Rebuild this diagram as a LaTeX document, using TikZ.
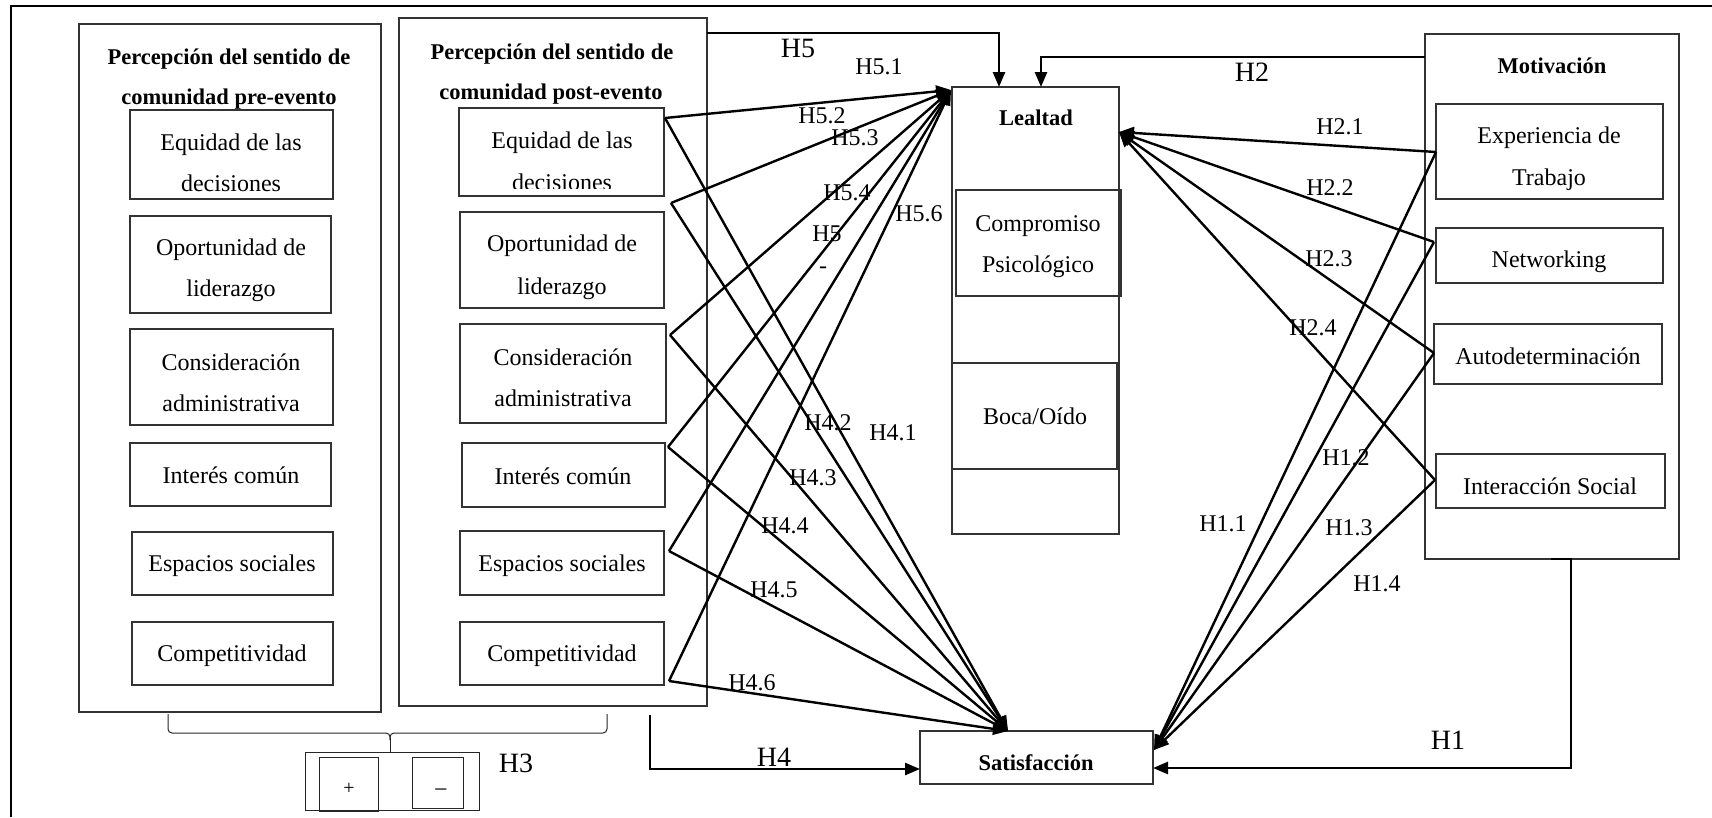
\documentclass[tikz,border=0pt]{standalone}
\usepackage{fontspec}
\setmainfont{Liberation Serif}
\usetikzlibrary{arrows.meta}
\begin{document}
\begin{tikzpicture}[x=1pt,y=-1pt,
  box/.style={draw=black!80, line width=1.4pt, inner sep=0pt, outer sep=0pt, anchor=north west},
  txt/.style={font=\fontsize{24}{28}\selectfont, inner sep=0pt, anchor=base},
  ttl/.style={font=\fontsize{22.5}{26}\selectfont\bfseries, inner sep=0pt, anchor=base},
  hbig/.style={font=\fontsize{28}{32}\selectfont, inner sep=0pt, anchor=base},
  hsub/.style={font=\fontsize{24}{28}\selectfont, inner sep=0pt, anchor=base},
  link/.style={line width=2.4pt, -{Triangle[length=15pt,width=12pt]}},
  elbow/.style={line width=2.6pt, -{Triangle[length=15pt,width=12pt]}},
  thinl/.style={line width=1pt, draw=black!85}
]
\useasboundingbox (0,0) rectangle (1712,817);

% outer frame (top and left edges)
\draw[line width=2.6pt] (11,817) -- (11,6) -- (1712,6);

% ---------- pre-event block ----------
\node[box, minimum width=302pt, minimum height=688pt] (pre) at (79,24) {};
\node[ttl] (preT1) at (229,64) {Percepción del sentido de};
\node[ttl] (preT2) at (229,104) {comunidad pre-evento};
\node[box, minimum width=203pt, minimum height=89pt] (pre1) at (130,110) {};
\node[box, minimum width=201pt, minimum height=97pt] (pre2) at (130,216) {};
\node[box, minimum width=203pt, minimum height=96pt] (pre3) at (130,329) {};
\node[box, minimum width=201pt, minimum height=63pt] (pre4) at (130,443) {};
\node[box, minimum width=201pt, minimum height=63pt] (pre5) at (132,532) {};
\node[box, minimum width=201pt, minimum height=63pt] (pre6) at (132,622) {};
\node[txt] (pa1) at (231,150) {Equidad de las};
\node[txt] (pa2) at (231,191) {decisiones};
\node[txt] (pb1) at (231,255) {Oportunidad de};
\node[txt] (pb2) at (231,296) {liderazgo};
\node[txt] (pc1) at (231,370) {Consideración};
\node[txt] (pc2) at (231,411) {administrativa};
\node[txt] (pd) at (231,483) {Interés común};
\node[txt] (pe) at (232,571) {Espacios sociales};
\node[txt] (pf) at (232,661) {Competitividad};

% ---------- post-event block ----------
\node[box, minimum width=308pt, minimum height=688pt] (post) at (399,18) {};
\node[ttl] (poT1) at (552,59) {Percepción del sentido de};
\node[ttl] (poT2) at (551,99) {comunidad post-evento};
\node[box, minimum width=205pt, minimum height=88pt] (post1) at (459,108) {};
\node[box, minimum width=204pt, minimum height=96pt] (post2) at (460,212) {};
\node[box, minimum width=206pt, minimum height=99pt] (post3) at (460,324) {};
\node[box, minimum width=203pt, minimum height=64pt] (post4) at (462,443) {};
\node[box, minimum width=204pt, minimum height=64pt] (post5) at (460,531) {};
\node[box, minimum width=204pt, minimum height=63pt] (post6) at (460,622) {};
\node[txt] (qa1) at (562,148) {Equidad de las};
\begin{scope}
  \clip (440,160) rectangle (690,188);
  \node[txt] (qa2) at (562,190) {decisiones};
\end{scope}
\node[txt] (qb1) at (562,251) {Oportunidad de};
\node[txt] (qb2) at (562,294) {liderazgo};
\node[txt] (qc1) at (563,365) {Consideración};
\node[txt] (qc2) at (563,406) {administrativa};
\node[txt] (qd) at (563,484) {Interés común};
\node[txt] (qe) at (562,571) {Espacios sociales};
\node[txt] (qf) at (562,661) {Competitividad};

% ---------- Lealtad ----------
\node[box, minimum width=167pt, minimum height=447pt] (leal) at (952,87) {};
\node[ttl] (lealT) at (1036,125) {Lealtad};
\node[box, minimum width=165pt, minimum height=106pt] (comp) at (956,190) {};
\node[txt] (cp1) at (1038,231) {Compromiso};
\node[txt] (cp2) at (1038,272) {Psicológico};
\node[box, minimum width=165pt, minimum height=106pt] (boca) at (952,363) {};
\node[txt] (bo) at (1035,424) {Boca/Oído};

% ---------- Motivación ----------
\node[box, minimum width=254pt, minimum height=525pt] (moti) at (1425,34) {};
\node[ttl] (motT) at (1552,73) {Motivación};
\node[box, minimum width=227pt, minimum height=95pt] (exp) at (1436,104) {};
\node[box, minimum width=227pt, minimum height=55pt] (net) at (1436,228) {};
\node[box, minimum width=228pt, minimum height=60pt] (auto) at (1434,324) {};
\node[box, minimum width=229pt, minimum height=54pt] (inter) at (1436,454) {};
\node[txt] (ex1) at (1549,143) {Experiencia de};
\node[txt] (ex2) at (1549,185) {Trabajo};
\node[txt] (nw) at (1549,267) {Networking};
\node[txt] (au) at (1548,364) {Autodeterminación};
\node[txt] (is) at (1550,494) {Interacción Social};

% ---------- Satisfacción ----------
\node[box, minimum width=233pt, minimum height=53pt] (sat) at (920,731) {};
\node[ttl] (satT) at (1036,770) {Satisfacción};

% ---------- comparison (+ / -) ----------
\node[box, draw=black!85, line width=1pt, minimum width=174pt, minimum height=58pt] (pm) at (305,752) {};
\node[box, draw=black!85, line width=1pt, minimum width=59pt, minimum height=54pt] (plus) at (319,757) {};
\node[box, draw=black!85, line width=1pt, minimum width=51pt, minimum height=51pt] (minus) at (412,757) {};
\node[font=\fontsize{20}{24}\selectfont, inner sep=0pt, anchor=base] (pl) at (349,794) {+};
\node[font=\fontsize{24}{28}\selectfont, inner sep=0pt, anchor=base] (mi) at (441,797) {−};
\draw[thinl, rounded corners=4pt] (168,714) -- (168,733) -- (390,733) -- (390,740);
\draw[thinl, rounded corners=4pt] (390,740) -- (390,733) -- (607,733) -- (607,714);
\draw[thinl] (390,738) -- (pm.north -| 390,752);
\node[hbig] (h3) at (516,772) {H3};

% ---------- anchor points of the paths ----------
\coordinate (s1) at (665,118);
\coordinate (s2) at (671,203);
\coordinate (s3) at (670,335);
\coordinate (s4) at (668,447);
\coordinate (s5) at (669,551);
\coordinate (s6) at (669,681);
\coordinate (m1) at (1436,152);
\coordinate (m2) at (1434,242);
\coordinate (m3) at (1434,353);
\coordinate (m4) at (1435,480);
\coordinate (lealIn) at (951,90);
\coordinate (lealR) at (1119,132);
\coordinate (satTop) at (1008,731);
\coordinate (satR) at (1154,750);

% H5.x : post-event dimensions -> Lealtad
\foreach \s in {s1,s2,s3,s4,s5,s6} \draw[link] (\s) -- (lealIn);
% H4.x : post-event dimensions -> Satisfacción
\foreach \s in {s1,s2,s3,s4,s5,s6} \draw[link] (\s) -- (satTop);
% H2.x : motivation dimensions -> Lealtad
\foreach \m in {m1,m2,m3,m4} \draw[link] (\m) -- (lealR);
% H1.x : motivation dimensions -> Satisfacción
\foreach \m in {m1,m2,m3,m4} \draw[link] (\m) -- (satR);

% global paths
\draw[elbow] (post.east |- 0,33) -- (999,33) -- (leal.north -| 999,0);
\draw[elbow] (moti.west |- 0,57) -- (1041,57) -- (leal.north -| 1041,0);
\draw[elbow] (650,715) -- (650,769) -- (sat.west |- 0,769);
\draw[elbow] (1551,559) -- (1571,559) -- (1571,768) -- (sat.east |- 0,768);

% ---------- labels ----------
\node[hbig] (lh5) at (798,57) {H5};
\node[hbig] (lh2) at (1252,81) {H2};
\node[hbig] (lh4) at (774,766) {H4};
\node[hbig] (lh1) at (1448,749) {H1};
\node[hsub] (l51) at (879,74) {H5.1};
\node[hsub] (l52) at (822,123) {H5.2};
\node[hsub] (l53) at (855,145) {H5.3};
\node[hsub] (l54) at (847,200) {H5.4};
\node[hsub] (l55) at (827,241) {H5};
\node[hsub] (l55b) at (823,273) {-};
\node[hsub] (l56) at (919,221) {H5.6};
\node[hsub] (l41) at (893,440) {H4.1};
\node[hsub] (l42) at (828,430) {H4.2};
\node[hsub] (l43) at (813,485) {H4.3};
\node[hsub] (l44) at (785,533) {H4.4};
\node[hsub] (l45) at (774,597) {H4.5};
\node[hsub] (l46) at (752,690) {H4.6};
\node[hsub] (l21) at (1340,134) {H2.1};
\node[hsub] (l22) at (1330,195) {H2.2};
\node[hsub] (l23) at (1329,266) {H2.3};
\node[hsub] (l24) at (1313,335) {H2.4};
\node[hsub] (l11) at (1223,531) {H1.1};
\node[hsub] (l12) at (1346,465) {H1.2};
\node[hsub] (l13) at (1349,535) {H1.3};
\node[hsub] (l14) at (1377,591) {H1.4};
\end{tikzpicture}
\end{document}
